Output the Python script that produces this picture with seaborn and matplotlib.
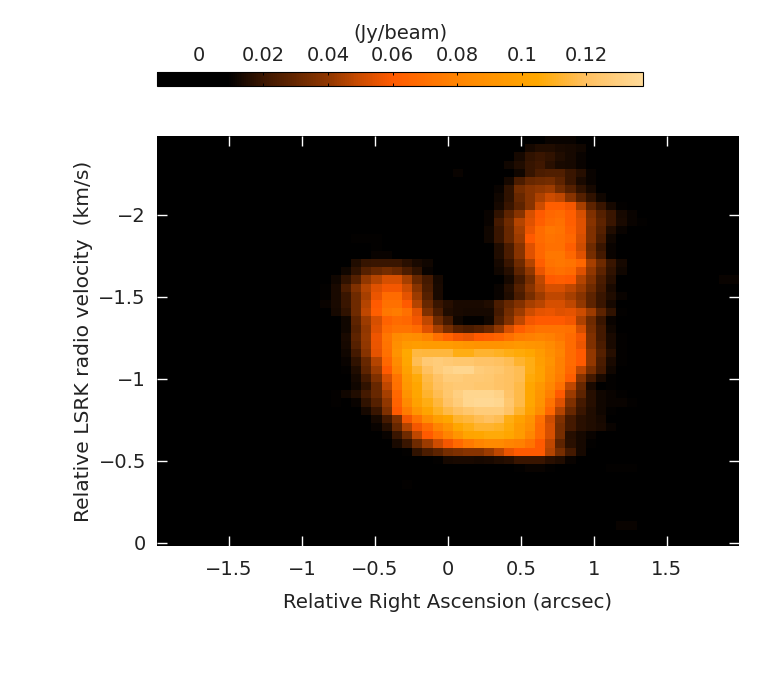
"""
pv_diagram.py
-------------
Position-velocity map with a horizontal flux colorbar on top.
"""

import numpy as np
import pandas as pd
import matplotlib
matplotlib.use('Agg')
import matplotlib.pyplot as plt
from matplotlib.colors import LinearSegmentedColormap
import seaborn as sns

N_COLS = 57
N_ROWS = 50
CELL_ARCSEC = 0.07
CHANNEL_KMS = 0.05

# flux, mJy/beam, top channel first.
# each row lists only the cells above the black floor, see FIRST_COL
row_00 = [11, 11, 11]
row_01 = [13, 15, 15, 14, 13, 12]
row_02 = [13, 18, 20, 18, 15, 13, 11]
row_03 = [12, 15, 19, 21, 17, 14, 13, 11]
row_04 = [12, 19, 24, 25, 25, 20, 16, 11]
row_05 = [13, 24, 30, 32, 33, 28, 20, 14, 11]
row_06 = [11, 18, 33, 38, 40, 42, 33, 26, 18, 13]
row_07 = [12, 18, 30, 38, 45, 50, 48, 38, 26, 18, 12]
row_08 = [13, 20, 28, 38, 50, 62, 62, 58, 44, 28, 20, 13, 10]
row_09 = [11, 18, 28, 38, 52, 60, 66, 68, 62, 52, 36, 26, 20, 13, 11]
row_10 = [11, 22, 32, 46, 54, 62, 68, 70, 62, 54, 38, 28, 20, 14, 11, 10]
row_11 = [12, 20, 30, 44, 56, 68, 74, 72, 64, 54, 36, 26, 15, 11]
row_12 = [12, 20, 30, 42, 60, 68, 72, 70, 66, 52, 36, 24, 12]
row_13 = [15, 24, 38, 54, 66, 70, 70, 62, 50, 32, 20, 11]
row_14 = [15, 24, 38, 54, 66, 74, 74, 66, 54, 34, 22, 11]
row_15 = [15, 19, 20, 20, 20, 17, 14, 12, 0, 0, 0, 0, 0, 0, 13, 20, 32, 46, 62, 72, 74, 72, 66, 44, 32, 20, 13]
row_16 = [12, 18, 26, 30, 33, 30, 24, 18, 11, 0, 0, 0, 0, 0, 0, 12, 16, 28, 40, 56, 68, 70, 68, 54, 40, 28, 18, 12]
row_17 = [12, 18, 26, 40, 46, 52, 52, 44, 30, 22, 13, 0, 0, 0, 0, 0, 0, 13, 22, 34, 48, 60, 62, 60, 46, 36, 24, 16]
row_18 = [10, 14, 24, 36, 46, 54, 58, 58, 50, 38, 24, 14, 0, 0, 0, 0, 0, 11, 16, 26, 38, 46, 52, 52, 48, 42, 32, 22, 14]
row_19 = [10, 14, 20, 32, 44, 56, 68, 68, 55, 42, 26, 14, 0, 0, 0, 0, 0, 11, 15, 24, 34, 42, 48, 48, 44, 38, 28, 20, 15, 11]
row_20 = [11, 14, 20, 32, 46, 60, 70, 70, 60, 46, 30, 20, 16, 14, 14, 14, 15, 24, 30, 37, 44, 47, 52, 52, 48, 40, 28, 20, 13]
row_21 = [13, 18, 32, 48, 62, 74, 76, 70, 55, 36, 24, 15, 14, 13, 13, 13, 22, 33, 42, 50, 55, 56, 54, 55, 50, 42, 28, 18, 10]
row_22 = [12, 28, 42, 52, 64, 68, 66, 58, 48, 32, 22, 12, 10, 10, 12, 25, 36, 48, 58, 60, 60, 60, 58, 45, 32, 20, 11]
row_23 = [12, 26, 40, 54, 68, 72, 72, 68, 54, 44, 34, 26, 24, 26, 30, 40, 52, 62, 68, 72, 72, 72, 70, 52, 34, 22, 12]
row_24 = [14, 28, 41, 57, 73, 84, 88, 86, 80, 70, 64, 58, 56, 60, 62, 65, 70, 76, 78, 80, 78, 74, 68, 58, 36, 22, 14, 10]
row_25 = [13, 26, 40, 56, 72, 88, 95, 97, 96, 96, 96, 94, 92, 90, 90, 90, 92, 94, 92, 90, 85, 78, 68, 56, 36, 24, 14, 10]
row_26 = [12, 22, 38, 55, 70, 90, 105, 115, 114, 114, 114, 108, 108, 112, 112, 110, 108, 106, 104, 96, 88, 80, 68, 60, 40, 26, 16, 10]
row_27 = [11, 18, 30, 46, 66, 85, 104, 118, 126, 128, 126, 124, 124, 122, 122, 120, 118, 112, 108, 98, 90, 78, 68, 60, 40, 24, 14, 10]
row_28 = [10, 15, 28, 42, 60, 80, 100, 112, 120, 128, 132, 134, 134, 128, 126, 124, 120, 118, 108, 100, 88, 78, 66, 48, 34, 22, 12]
row_29 = [13, 22, 36, 52, 72, 96, 106, 116, 122, 128, 128, 126, 126, 125, 122, 120, 118, 106, 100, 86, 76, 62, 38, 22, 14, 10]
row_30 = [12, 18, 30, 48, 70, 94, 104, 114, 120, 124, 126, 126, 124, 124, 122, 120, 116, 104, 94, 82, 70, 48, 30, 14, 0, 10]
row_31 = [10, 12, 15, 22, 30, 44, 66, 90, 104, 112, 118, 124, 130, 134, 134, 134, 132, 122, 116, 104, 92, 78, 60, 42, 28, 16, 12, 11, 10]
row_32 = [10, 0, 11, 18, 26, 40, 64, 84, 100, 108, 114, 122, 128, 134, 136, 136, 134, 124, 116, 104, 90, 72, 54, 36, 22, 16, 12, 11, 11, 10]
row_33 = [13, 20, 36, 60, 76, 92, 102, 110, 116, 120, 124, 128, 128, 128, 122, 112, 100, 86, 66, 46, 30, 20, 15, 12, 10]
row_34 = [13, 22, 36, 58, 72, 86, 98, 104, 112, 114, 118, 120, 118, 108, 100, 90, 70, 50, 36, 22, 17, 15, 13]
row_35 = [11, 16, 30, 46, 58, 68, 80, 90, 104, 108, 112, 112, 110, 106, 96, 88, 68, 52, 34, 22, 17, 15, 14, 11]
row_36 = [11, 20, 32, 48, 60, 70, 80, 92, 102, 104, 106, 106, 104, 96, 82, 68, 52, 34, 16, 13, 11]
row_37 = [14, 20, 32, 42, 50, 58, 67, 75, 80, 84, 84, 80, 78, 72, 60, 48, 28, 17, 13, 10]
row_38 = [10, 18, 24, 28, 34, 36, 38, 38, 42, 48, 56, 60, 60, 60, 46, 34, 22, 13]
row_39 = [10, 13, 14, 14, 13, 14, 15, 16, 20, 20, 20, 17, 15, 11]
row_40 = [10, 11, 11, 10, 0, 0, 0, 0, 0, 10, 10, 10]

ROWS = [row_00, row_01, row_02, row_03, row_04, row_05, row_06, row_07, row_08, row_09,
        row_10, row_11, row_12, row_13, row_14, row_15, row_16, row_17, row_18, row_19,
        row_20, row_21, row_22, row_23, row_24, row_25, row_26, row_27, row_28, row_29,
        row_30, row_31, row_32, row_33, row_34, row_35, row_36, row_37, row_38, row_39,
        row_40]
FIRST_COL = [38, 36, 35, 34, 35, 34, 33, 33, 33, 32,
             32, 32, 32, 33, 33, 19, 18, 17, 16, 16,
             16, 17, 18, 18, 18, 18, 18, 18, 18, 19,
             19, 17, 17, 20, 21, 21, 22, 23, 24, 27,
             35]

# faint isolated specks: row, column, flux
speck_rows = [4, 12, 12, 12, 13, 14, 14, 17, 17, 42, 47, 47]
speck_cols = [29, 19, 20, 21, 21, 21, 22, 55, 56, 24, 45, 46]
speck_flux = [11, 10, 10, 10, 10, 11, 11, 11, 11, 10, 11, 11]

ra_ticks = [-1.5, -1, -0.5, 0, 0.5, 1, 1.5]
ra_labels = ['\u22121.5', '\u22121', '\u22120.5', '0', '0.5', '1', '1.5']
vel_ticks = [-2, -1.5, -1, -0.5, 0]
vel_labels = ['\u22122', '\u22121.5', '\u22121', '\u22120.5', '0']
flux_ticks = [0, 0.02, 0.04, 0.06, 0.08, 0.1, 0.12]
flux_labels = ['0', '0.02', '0.04', '0.06', '0.08', '0.1', '0.12']

FLUX_MIN = -0.0129
FLUX_MAX = 0.1375
cmap_flux = [FLUX_MIN, 0.009, 0.02, 0.04, 0.05, 0.06, 0.08, 0.105, 0.12, FLUX_MAX]
cmap_hex = ['#000000', '#000000', '#3c1600', '#903700', '#cc4c00', '#ff5a00',
            '#ff8400', '#ffa800', '#ffc060', '#ffda98']


def build_grid():
    grid = np.zeros((N_ROWS, N_COLS))
    for r, (start, vals) in enumerate(zip(FIRST_COL, ROWS)):
        grid[r, start:start + len(vals)] = vals
    grid[speck_rows, speck_cols] = speck_flux
    return grid / 1000


grid = build_grid()
ra_axis = (np.arange(N_COLS) - 28) * CELL_ARCSEC
vel_axis = -2.4555 + np.arange(N_ROWS) * CHANNEL_KMS
df = pd.DataFrame(grid, index=vel_axis, columns=ra_axis)

nodes = [(f - FLUX_MIN) / (FLUX_MAX - FLUX_MIN) for f in cmap_flux]
cmap = LinearSegmentedColormap.from_list('pv_heat', list(zip(nodes, cmap_hex)))

sns.set_style('white')
plt.rcParams['font.family'] = ['DejaVu Sans']

TEXT = '#222222'
W, H = 779, 682
fig = plt.figure(figsize=(W / 100, H / 100), dpi=100)
ax = fig.add_axes([157 / W, 1 - 546 / H, 582 / W, 410 / H])
cax = fig.add_axes([157 / W, 1 - 86 / H, 486 / W, 14 / H])

sns.heatmap(df, cmap=cmap, vmin=FLUX_MIN, vmax=FLUX_MAX, ax=ax, cbar_ax=cax,
            cbar_kws={'orientation': 'horizontal'}, xticklabels=False, yticklabels=False,
            rasterized=True)

# heatmap axes count cells, so turn arcsec and km/s into cell positions
x_pos = [t / CELL_ARCSEC + 28.5 for t in ra_ticks]
y_pos = [(t - vel_axis[0]) / CHANNEL_KMS + 0.5 for t in vel_ticks]
ax.set_axisbelow(False)
ax.set_xticks(x_pos, ra_labels)
ax.set_yticks(y_pos, vel_labels)
ax.tick_params(axis='both', which='major', direction='in', color='white', width=1, length=7.5,
               top=True, right=True, bottom=True, left=True, labelsize=14, labelcolor=TEXT)
ax.tick_params(axis='x', pad=10)
ax.tick_params(axis='y', pad=8)
ax.set_xlabel('Relative Right Ascension (arcsec)', fontsize=14.2, color=TEXT, va='center')
ax.set_ylabel('Relative LSRK radio velocity  (km/s)', fontsize=14.6, color=TEXT, va='center')
ax.xaxis.set_label_coords(0.5, -0.139)
ax.yaxis.set_label_coords(-0.127, 0.5)
for s in ax.spines.values():
    s.set_visible(False)

cbar = ax.collections[0].colorbar
cbar.set_ticks(flux_ticks, labels=flux_labels)
cbar.ax.set_axisbelow(False)
cbar.ax.tick_params(axis='x', direction='in', length=2.5, width=0.7, color='black',
                    top=True, bottom=True, labeltop=True, labelbottom=False,
                    labelsize=14, labelcolor=TEXT, pad=5)
cbar.ax.xaxis.set_label_position('top')
cbar.set_label('(Jy/beam)', fontsize=14, labelpad=5, color=TEXT)
cbar.outline.set_visible(True)
cbar.outline.set_edgecolor('black')
cbar.outline.set_linewidth(0.8)

fig.savefig('out.png', dpi=100)
